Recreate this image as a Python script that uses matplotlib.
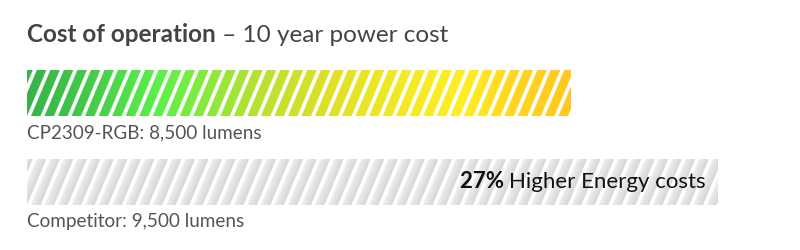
"""Cost of operation: striped gradient bars comparing 10 year power cost."""
import numpy as np
import matplotlib.pyplot as plt
from matplotlib.colors import LinearSegmentedColormap, to_rgb

# data (relative 10 year power cost, CP2309 = 100)
products = ['CP2309-RGB', 'Competitor']
lumens = [8500, 9500]
relative_cost = [100, 127]

plt.rcParams['font.family'] = ['Lato', 'DejaVu Sans']

W, H, DPI = 800, 250, 100
X0_PX = 27          # left edge of the bars
PX_PER_UNIT = 690 / 127
ROW_PX = [93, 182]  # bar centres from top
BAR_H_PX = 46
PERIOD = 13.5       # stripe period (px)
GAP = 4.0           # white gap (px)
SLANT = 0.42        # dx/dy of stripes

warm = LinearSegmentedColormap.from_list('warm', [
    (0.00, '#37b24a'), (0.12, '#46cc4a'), (0.24, '#5cf04a'), (0.34, '#8fe83c'),
    (0.45, '#c2e030'), (0.56, '#e0e028'), (0.70, '#f4ea25'), (0.80, '#ffee24'),
    (0.90, '#ffd522'), (1.00, '#ffc720'),
])
gray_lo, gray_hi = np.array(to_rgb('#d6d6d6')), np.array(to_rgb('#eeeeee'))


def striped_image(w_px, h_px, kind, ss=3):
    xs = (np.arange(int(w_px * ss)) + 0.5) / ss
    ys = (np.arange(int(h_px * ss)) + 0.5) / ss
    X, Y = np.meshgrid(xs, ys)
    y_up = h_px - Y
    phase = np.mod(X - SLANT * y_up, PERIOD)
    gap = phase < GAP
    if kind == 'warm':
        img = warm(X / w_px)[..., :3]
    else:
        t = ((phase - GAP) / (PERIOD - GAP)).clip(0, 1)[..., None]
        img = gray_hi * (1 - t) + gray_lo * t
    img[gap] = 1.0
    return img


fig = plt.figure(figsize=(W / DPI, H / DPI), dpi=DPI)
ax = fig.add_axes([0, 0, 1, 1])
ax.set_xlim(-X0_PX / PX_PER_UNIT, (W - X0_PX) / PX_PER_UNIT)
# y = 0 at first bar centre, y = 1 at second
unit = ROW_PX[1] - ROW_PX[0]
ax.set_ylim(1 + (H - ROW_PX[1]) / unit, -ROW_PX[0] / unit)
ax.axis('off')

bar_h = BAR_H_PX / unit
bars = ax.barh(range(len(products)), relative_cost, height=bar_h, left=0,
               color='none', edgecolor='none')

for i, (bar, val) in enumerate(zip(bars, relative_cost)):
    kind = 'warm' if i == 0 else 'gray'
    img = striped_image(val * PX_PER_UNIT, BAR_H_PX, kind)
    im = ax.imshow(img, extent=(0, val, i + bar_h / 2, i - bar_h / 2),
                   aspect='auto', interpolation='antialiased', zorder=2)
    im.set_clip_path(bar)
    ax.text(0, i + bar_h / 2 + 0.19, f'{products[i]}: {lumens[i]:,} lumens',
            fontsize=13.6, color='#555555', ha='left', va='center')

# title with mixed weight
renderer = fig.canvas.get_renderer()
t1 = fig.text(X0_PX / W, 1 - 35 / H, 'Cost of operation', fontsize=17.5,
              fontweight='bold', color='#444444', va='center', ha='left')
bb = t1.get_window_extent(renderer)
fig.text(bb.x1 / W, 1 - 35 / H, ' – 10 year power cost', fontsize=17.5,
         color='#444444', va='center', ha='left')

# annotation on the competitor bar
pct = round((relative_cost[1] / relative_cost[0] - 1) * 100)
ty = 1 - 182 / H
t2 = fig.text((X0_PX + relative_cost[1] * PX_PER_UNIT - 11) / W, ty,
              'Higher Energy costs', fontsize=16, color='#111111',
              ha='right', va='center', zorder=5)
bb = t2.get_window_extent(renderer)
fig.text(bb.x0 / W, ty, f'{pct}% ', fontsize=16, fontweight='bold',
         color='#111111', ha='right', va='center', zorder=5)

fig.savefig('out.png', dpi=DPI)
